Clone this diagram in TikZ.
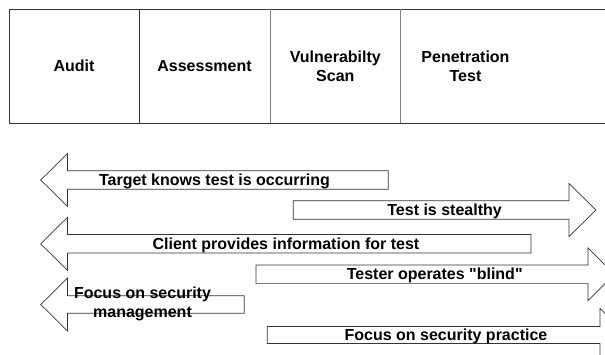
\documentclass[tikz,border=0pt]{standalone}
\usepackage{fontspec}
\setmainfont{Liberation Sans}[Ligatures=TeXOff]
\tikzset{
  cell/.style={font=\bfseries\fontsize{16}{19}\selectfont,align=center},
  band/.style={draw=black!80,line width=0.7pt},
  rule/.style={draw=black!80,line width=0.8pt},
}
\begin{document}
\begin{tikzpicture}[x=1pt,y=-1pt]
\useasboundingbox (0,0) rectangle (605,355);
\clip (0,0) rectangle (605,355);

\draw[rule] (610,9) -- (9,9) -- (9,123.3) -- (610,123.3);
\draw[rule] (139,9) -- (139,123.3);
\draw[rule,draw=black!50] (270,9) -- (270,123.3);
\draw[rule,draw=black!50] (400.7,9) -- (400.7,123.3);
\node[cell] (audit) at (74,66) {Audit};
\node[cell] (assess) at (204.5,66) {Assessment};
\node[cell] (vscan) at (335.3,66) {Vulnerabilty\\Scan};
\node[cell] (pentest) at (465.5,66) {Penetration\\Test};

\draw[band] (40.7,180) -- (67.5,153.5) -- (67.5,170.8) -- (388.3,170.8) -- (388.3,189.2) -- (67.5,189.2) -- (67.5,206.5) -- cycle;
\draw[band] (293.3,200.8) -- (569,200.8) -- (569,183.5) -- (596,210) -- (569,236.5) -- (569,219.2) -- (293.3,219.2) -- cycle;
\draw[band] (40.7,243.8) -- (67.5,217.3) -- (67.5,234.5) -- (531,234.5) -- (531,253.1) -- (67.5,253.1) -- (67.5,270.3) -- cycle;
\draw[band] (256,265) -- (588,265) -- (588,248) -- (614.5,274.2) -- (588,300.5) -- (588,283.4) -- (256,283.4) -- cycle;
\draw[band] (40.7,304.5) -- (67.5,278) -- (67.5,295.7) -- (244.3,295.7) -- (244.3,313.3) -- (67.5,313.3) -- (67.5,331) -- cycle;
\draw[band] (267.3,326.5) -- (600,326.5) -- (600,308.5) -- (626.5,335) -- (600,361.5) -- (600,343.5) -- (267.3,343.5) -- cycle;

\node[cell,anchor=base] (knows) at (214.5,185.8) {Target knows test is occurring};
\node[cell,anchor=base] (stealthy) at (444.6,215.3) {Test is stealthy};
\node[cell,anchor=base] (client) at (285.9,249.2) {Client provides information for test};
\node[cell,anchor=base] (blind) at (434.7,279.8) {Tester operates "blind"};
\node[cell] (mgmt) at (142.5,304) {Focus on security\\management};
\node[cell,anchor=base] (practice) at (446,340.6) {Focus on security practice};

\end{tikzpicture}
\end{document}
